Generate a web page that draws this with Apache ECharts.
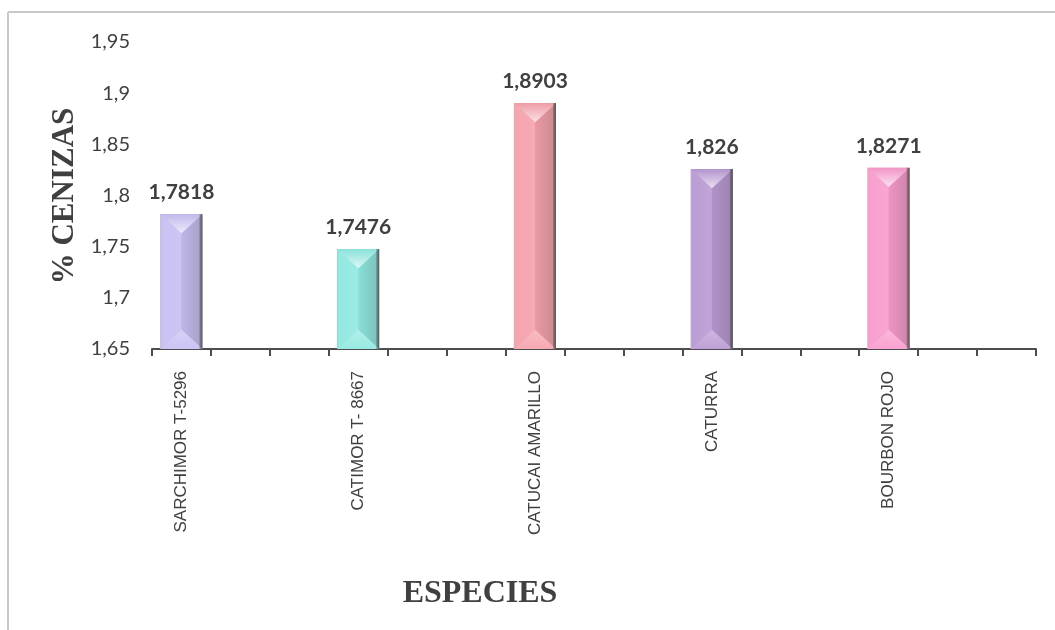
<!DOCTYPE html>
<html>
<head>
<meta charset="utf-8">
<script src="https://cdn.jsdelivr.net/npm/echarts@6/dist/echarts.min.js"></script>
<style>
  html, body { margin: 0; padding: 0; background: #ffffff; }
  #chart { width: 1055px; height: 630px; }
</style>
</head>
<body>
<div id="chart"></div>
<script>
// Ash content (%) per coffee variety
const species = ['SARCHIMOR T-5296', 'CATIMOR T- 8667', 'CATUCAI AMARILLO', 'CATURRA', 'BOURBON ROJO'];
const cenizas = [1.7818, 1.7476, 1.8903, 1.826, 1.8271];
const barColors = ['#c6bef2', '#8fe8e0', '#f5a0aa', '#b898d2', '#f89acc'];

// Value axis
const yMin = 1.65, yMax = 1.95, yStep = 0.05;

// Category axis has three slots per variety; each variety sits in the first slot of its group
const slotsPerSpecies = 3;
const slotCount = species.length * slotsPerSpecies;
const axisSlots = [];
for (let i = 0; i < slotCount; i++) {
  axisSlots.push(i % slotsPerSpecies === 0 ? species[i / slotsPerSpecies] : '');
}
const seriesData = cenizas.map((v, i) => [i * slotsPerSpecies, v]);

const fmt = v => String(v).replace('.', ',');

function hexToRgb(h) {
  const n = parseInt(h.slice(1), 16);
  return [(n >> 16) & 255, (n >> 8) & 255, n & 255];
}
function mix(h, target, t) {
  const a = hexToRgb(h), b = hexToRgb(target);
  const c = a.map((x, i) => Math.round(x + (b[i] - x) * t));
  return 'rgb(' + c.join(',') + ')';
}

// Bar with bevelled faces: light top wedge, split left/right facets, dark right rim
function renderBevelBar(params, api) {
  const idx = api.value(0), val = api.value(1);
  const top = api.coord([idx, val]);
  const bot = api.coord([idx, yMin]);
  const w = api.size([1, 0])[0] * 0.71;
  const xc = top[0], x0 = xc - w / 2, x1 = xc + w / 2;
  const y0 = top[1], y1 = bot[1];
  const d = Math.min(w * 0.46, (y1 - y0) / 2);
  const base = barColors[params.dataIndex];

  const lin = (x, y, x2, y2, stops) => ({ type: 'linear', x, y, x2, y2, colorStops: stops });

  return {
    type: 'group',
    children: [
      { type: 'rect', shape: { x: x0, y: y0, width: w, height: y1 - y0 },
        style: { fill: base } },
      { type: 'polygon', shape: { points: [[x0, y0], [xc, y0 + d], [xc, y1 - d], [x0, y1]] },
        style: { fill: lin(0, 0, 1, 0, [
          { offset: 0, color: mix(base, '#ffffff', 0.04) },
          { offset: 1, color: mix(base, '#ffffff', 0.12) }]) } },
      { type: 'polygon', shape: { points: [[xc, y0 + d], [x1, y0], [x1, y1], [xc, y1 - d]] },
        style: { fill: lin(0, 0, 1, 0, [
          { offset: 0, color: mix(base, '#000000', 0.04) },
          { offset: 1, color: mix(base, '#333333', 0.22) }]) } },
      { type: 'polygon', shape: { points: [[x0, y0], [x1, y0], [xc, y0 + d]] },
        style: { fill: lin(0, 0, 0, 1, [
          { offset: 0, color: mix(base, '#000000', 0.03) },
          { offset: 1, color: mix(base, '#ffffff', 0.7) }]) } },
      { type: 'polygon', shape: { points: [[x0, y1], [x1, y1], [xc, y1 - d]] },
        style: { fill: lin(0, 0, 0, 1, [
          { offset: 0, color: mix(base, '#ffffff', 0.3) },
          { offset: 1, color: mix(base, '#ffffff', 0.08) }]) } },
      { type: 'rect', shape: { x: x1 - 3, y: y0, width: 3, height: y1 - y0 },
        style: { fill: lin(0, 0, 1, 0, [
          { offset: 0, color: 'rgba(70,70,70,0.35)' },
          { offset: 1, color: 'rgba(60,60,60,0.75)' }]) } },
      { type: 'rect', shape: { x: x0 - 0.5, y: y0, width: 1.2, height: y1 - y0 },
        style: { fill: 'rgba(190,190,190,0.7)' } },
      { type: 'text', z2: 10,
        style: { text: fmt(val), x: xc, y: y0 - 11, align: 'center', verticalAlign: 'bottom',
          fontFamily: 'Lato', fontWeight: 'bold', fontSize: 21, fill: '#404040' } }
    ]
  };
}

const chart = echarts.init(document.getElementById('chart'), null, { renderer: 'canvas' });
chart.setOption({
  backgroundColor: '#ffffff',
  animation: false,
  grid: { left: 152, right: 19, top: 42, bottom: 281, containLabel: false },
  xAxis: {
    type: 'category',
    data: axisSlots,
    boundaryGap: true,
    axisLine: { lineStyle: { color: '#4d4d4d', width: 2 } },
    axisTick: { show: true, interval: 0, length: 7, lineStyle: { color: '#4d4d4d', width: 2 } },
    axisLabel: { interval: 0, rotate: 90, margin: 22, fontFamily: 'Liberation Sans',
      fontSize: 17, color: '#404040' }
  },
  yAxis: {
    type: 'value',
    min: yMin, max: yMax, interval: yStep,
    axisLine: { show: false },
    axisTick: { show: false },
    splitLine: { show: false },
    axisLabel: { margin: 22, fontFamily: 'Lato', fontSize: 20, color: '#404040',
      formatter: v => fmt(Math.round(v * 100) / 100) }
  },
  graphic: [
    { type: 'line', shape: { x1: 8, y1: 12, x2: 1055, y2: 12 },
      style: { stroke: '#c8c8c8', lineWidth: 2 } },
    { type: 'line', shape: { x1: 8, y1: 12, x2: 8, y2: 630 },
      style: { stroke: '#c8c8c8', lineWidth: 2 } },
    { type: 'text', x: 480, y: 594,
      style: { text: 'ESPECIES', align: 'center', verticalAlign: 'middle',
        fontFamily: 'Liberation Serif', fontWeight: 'bold', fontSize: 32, fill: '#404040' } },
    { type: 'text', x: 65, y: 196, rotation: Math.PI / 2,
      style: { text: '% CENIZAS', align: 'center', verticalAlign: 'middle',
        fontFamily: 'Liberation Serif', fontWeight: 'bold', fontSize: 31, fill: '#404040' } }
  ],
  series: [{
    type: 'custom',
    renderItem: renderBevelBar,
    encode: { x: 0, y: 1 },
    data: seriesData,
    clip: false
  }]
});
</script>
</body>
</html>
